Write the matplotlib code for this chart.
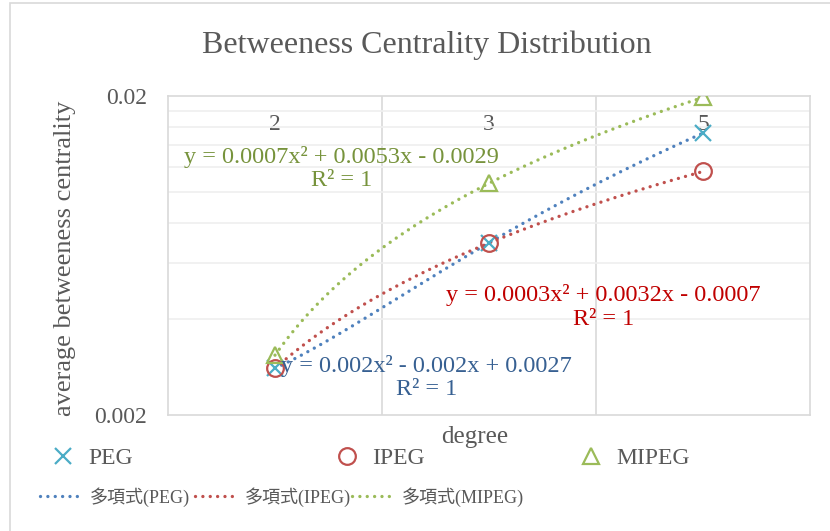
import numpy as np
import matplotlib
matplotlib.use('Agg')
import matplotlib.pyplot as plt
from matplotlib.patches import Rectangle
from matplotlib.ticker import FixedLocator, NullFormatter

plt.rcParams['font.family'] = ['Liberation Serif', 'Noto Sans CJK TC']

# data (x categories are the degree values, plotted at index 1..3 like Excel)
degrees = ['2', '3', '5']
peg = [0.0028, 0.00693, 0.0153]
ipeg = [0.0028, 0.00692, 0.0116]
mipeg = [0.00308, 0.01065, 0.0198]
series_names = ['PEG', 'IPEG', 'MIPEG']
equations = ['y = 0.002x² - 0.002x + 0.0027\nR² = 1',
             'y = 0.0003x² + 0.0032x - 0.0007\nR² = 1',
             'y = 0.0007x² + 0.0053x - 0.0029\nR² = 1']

marker_colors = ['#4bacc6', '#c0504d', '#9bbb59']
trend_colors = ['#4f81bd', '#c0504d', '#9bbb59']
eq_colors = ['#376092', '#c00000', '#77933c']
markers = ['x', 'o', '^']
eq_pos = [(0.403, 0.118), (0.678, 0.339), (0.27, 0.773)]
gray = '#595959'
fs = 17

fig = plt.figure(figsize=(8.3, 5.31), dpi=100)
fig.add_artist(Rectangle((10 / 830, -0.1), 1.2, 1.1 - 3 / 531, transform=fig.transFigure,
                         fill=False, edgecolor='#d9d9d9', lw=1.2))
ax = fig.add_axes([168 / 830, 1 - 415 / 531, 642 / 830, 319 / 531])

x = np.arange(1, len(degrees) + 1)
xs = np.linspace(1, 3, 200)
marker_handles = []
line_handles = []
for vals, name, mc, tc, mk in zip([peg, ipeg, mipeg], series_names, marker_colors, trend_colors, markers):
    coef = np.polyfit(x, vals, 2)
    ln, = ax.plot(xs, np.polyval(coef, xs), color=tc, lw=2.4, linestyle=(0, (0.01, 2.2)),
                  dash_capstyle='round', solid_capstyle='round', zorder=2)
    if mk == 'x':
        mh, = ax.plot(x, vals, linestyle='none', marker='x', ms=11, mew=1.6, color=mc, zorder=3)
    else:
        mh, = ax.plot(x, vals, linestyle='none', marker=mk, ms=12, mew=1.6, mfc='none', mec=mc, zorder=3)
    marker_handles.append(mh)
    line_handles.append(ln)

for eq, (ex, ey), ec in zip(equations, eq_pos, eq_colors):
    ax.text(ex, ey, eq, transform=ax.transAxes, ha='center', va='center', color=ec,
            fontsize=17.5, multialignment='center', linespacing=1.15)

ax.set_yscale('log')
ax.set_ylim(0.002, 0.02)
ax.set_xlim(0.5, 3.5)
ax.set_yticks([0.002, 0.02])
ax.set_yticklabels(['0.002', '0.02'])
ax.yaxis.set_minor_locator(FixedLocator(np.arange(0.004, 0.0181, 0.002)))
ax.yaxis.set_minor_formatter(NullFormatter())
ax.set_xticks(x)
ax.set_xticklabels(degrees)
ax.xaxis.set_minor_locator(FixedLocator([1.5, 2.5]))
ax.tick_params(axis='x', which='both', bottom=False, top=False, labelbottom=False, labeltop=True,
               length=0, pad=-28, labelsize=fs, labelcolor=gray)
ax.tick_params(axis='y', which='both', length=0, labelsize=fs, labelcolor=gray, pad=15)
ax.grid(axis='y', which='minor', color='#efefef', lw=1.2)
ax.grid(axis='x', which='minor', color='#d9d9d9', lw=1.2)
for sp in ax.spines.values():
    sp.set_color('#d9d9d9')
    sp.set_linewidth(1.2)

fig.text(427 / 830, 1 - 45 / 531, 'Betweeness Centrality Distribution', ha='center', va='center',
         fontsize=23, color=gray)
fig.text(65 / 830, 1 - 258 / 531, 'average betweeness centrality', rotation=90, ha='center',
         va='center', fontsize=19, color=gray)
fig.text(475 / 830, 1 - 437 / 531, 'degree', ha='center', va='center', fontsize=18, color=gray)

# legend row 1: markers
row1_left = [51, 335, 579]
for h, name, lx in zip(marker_handles, series_names, row1_left):
    fig.legend([h], [name], loc='center left', bbox_to_anchor=(lx / 830, 1 - 458 / 531),
               frameon=False, borderpad=0, borderaxespad=0, handlelength=1.0,
               handletextpad=0.57, fontsize=fs, labelcolor=gray)

# legend row 2: trendlines
row2_left = [40, 195, 352]
for h, name, lx in zip(line_handles, series_names, row2_left):
    fig.legend([h], ['多項式(' + name + ')'], loc='center left',
               bbox_to_anchor=(lx / 830, 1 - 497 / 531), frameon=False, borderpad=0,
               borderaxespad=0, handlelength=2.2, handletextpad=0.55, fontsize=13, labelcolor=gray)

fig.savefig('out.png', dpi=100)
